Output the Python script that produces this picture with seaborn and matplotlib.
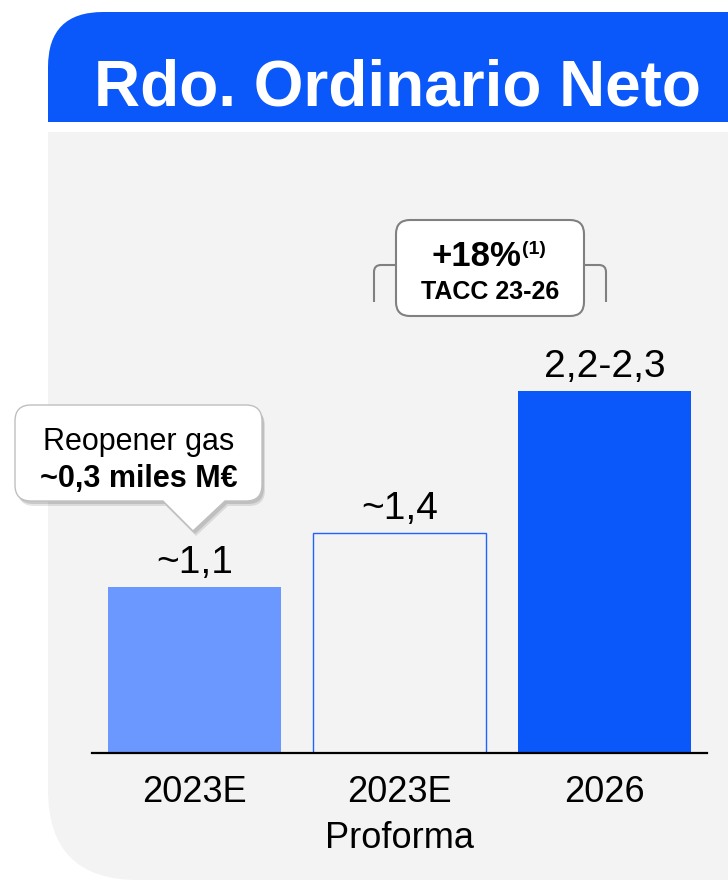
import matplotlib
matplotlib.use("Agg")
import matplotlib.pyplot as plt
from matplotlib.path import Path
from matplotlib.patches import PathPatch
import seaborn as sns

periods = ["2023E", "2023E\nProforma", "2026"]
values = [1.1, 1.46, 2.4]
value_labels = ["~1,1", "~1,4", "2,2-2,3"]
bar_colors = ["#6B98FF", "#F3F3F3", "#0A57FA"]

title = "Rdo. Ordinario Neto"
growth_text = "+18%"
growth_note = "(1)"
growth_sub = "TACC 23-26"
reopener_line1 = "Reopener gas"
reopener_line2 = "~0,3 miles M€"

BLUE = "#0A57FA"
PANEL = "#F3F3F3"

sns.set_style("white")
plt.rcParams['font.family'] = ['Liberation Sans', 'DejaVu Sans']
plt.rcParams['text.color'] = 'black'


def rounded_path(x0, y0, x1, y1, radii, pointer=None):
    # pixel coords, y grows downward; radii = (tl, tr, br, bl)
    tl, tr, br, bl = radii
    verts = [(x0 + tl, y0), (x1 - tr, y0), (x1, y0), (x1, y0 + tr),
             (x1, y1 - br), (x1, y1), (x1 - br, y1)]
    codes = [Path.MOVETO, Path.LINETO, Path.CURVE3, Path.CURVE3,
             Path.LINETO, Path.CURVE3, Path.CURVE3]
    if pointer is not None:
        px0, px1, tx, ty = pointer
        verts += [(px1, y1), (tx, ty), (px0, y1)]
        codes += [Path.LINETO] * 3
    verts += [(x0 + bl, y1), (x0, y1), (x0, y1 - bl), (x0, y0 + tl),
              (x0, y0), (x0 + tl, y0), (x0 + tl, y0)]
    codes += [Path.LINETO, Path.CURVE3, Path.CURVE3, Path.LINETO,
              Path.CURVE3, Path.CURVE3, Path.CLOSEPOLY]
    return Path(verts, codes)


fig = plt.figure(figsize=(7.28, 8.81), dpi=100)
fig.patch.set_facecolor("white")

bg = fig.add_axes([0, 0, 1, 1])
bg.set_xlim(0, 728)
bg.set_ylim(881, 0)
bg.axis("off")

# panel + header
bg.add_patch(PathPatch(rounded_path(48, 132, 800, 880, (0, 0, 0, 90)),
                       facecolor=PANEL, edgecolor="none"))
bg.add_patch(PathPatch(rounded_path(48, 12, 800, 122, (55, 55, 0, 0)),
                       facecolor=BLUE, edgecolor="none"))
bg.text(397, 105, title, color="white", fontsize=46, fontweight="bold",
        ha="center", va="baseline")

# growth callout
bg.add_patch(PathPatch(rounded_path(396, 220, 584, 316, (14, 14, 14, 14)),
                       facecolor="white", edgecolor="#808080", lw=1.5, zorder=3))
brk = Path([(374, 302), (374, 272), (374, 265), (381, 265), (396, 265)],
           [Path.MOVETO, Path.LINETO, Path.CURVE3, Path.CURVE3, Path.LINETO])
bg.add_patch(PathPatch(brk, facecolor="none", edgecolor="#808080", lw=1.5))
brk2 = Path([(584, 265), (599, 265), (606, 265), (606, 272), (606, 302)],
            [Path.MOVETO, Path.LINETO, Path.CURVE3, Path.CURVE3, Path.LINETO])
bg.add_patch(PathPatch(brk2, facecolor="none", edgecolor="#808080", lw=1.5))
bg.text(521, 266, growth_text, fontsize=25, fontweight="bold",
        ha="right", va="baseline", zorder=4)
bg.text(522, 254, growth_note, fontsize=14, fontweight="bold",
        ha="left", va="baseline", zorder=4)
bg.text(490, 299, growth_sub, fontsize=18, fontweight="bold",
        ha="center", va="baseline", zorder=4)

# reopener callout
ptr = (163, 225, 193, 531)
for dx, dy, a in [(3, 5, 0.10), (2, 3, 0.12)]:
    bg.add_patch(PathPatch(rounded_path(15 + dx, 405 + dy, 262 + dx, 501 + dy,
                                        (16, 16, 16, 16),
                                        (163 + dx, 225 + dx, 193 + dx, 531 + dy)),
                           facecolor="black", edgecolor="none", alpha=a, zorder=2))
bg.add_patch(PathPatch(rounded_path(15, 405, 262, 501, (16, 16, 16, 16), ptr),
                       facecolor="white", edgecolor="#BFBFBF", lw=1, zorder=3))
bg.text(139, 450, reopener_line1, fontsize=22, ha="center", va="baseline", zorder=4)
bg.text(139, 487, reopener_line2, fontsize=22, fontweight="bold",
        ha="center", va="baseline", zorder=4)

# bar chart
ax = fig.add_axes([92 / 728, 128 / 881, 615 / 728, 604 / 881])
ax.patch.set_alpha(0)
sns.barplot(x=periods, y=values, hue=periods, palette=bar_colors,
            saturation=1, width=0.84, legend=False, ax=ax)
ax.patches[1].set_edgecolor("#1F63FF")
ax.patches[1].set_linewidth(1.0)
for p in (ax.patches[0], ax.patches[2]):
    p.set_linewidth(0)

ax.set_xlim(-0.5, 2.5)
ax.set_ylim(0, 604 / 151)
ax.set_yticks([])
ax.set_xlabel("")
ax.set_ylabel("")
for s in ["left", "right", "top"]:
    ax.spines[s].set_visible(False)
ax.spines["bottom"].set_color("black")
ax.spines["bottom"].set_linewidth(1.6)
ax.spines["bottom"].set_zorder(5)
ax.tick_params(axis="x", length=0, pad=16, labelsize=26, colors="black")
for lbl in ax.get_xticklabels():
    lbl.set_linespacing(1.4)

for i, (v, lab) in enumerate(zip(values, value_labels)):
    ax.annotate(lab, (i, v), xytext=(0, 4), textcoords="offset points",
                ha="center", va="bottom", fontsize=28, color="black")

fig.savefig("out.png", dpi=100)
